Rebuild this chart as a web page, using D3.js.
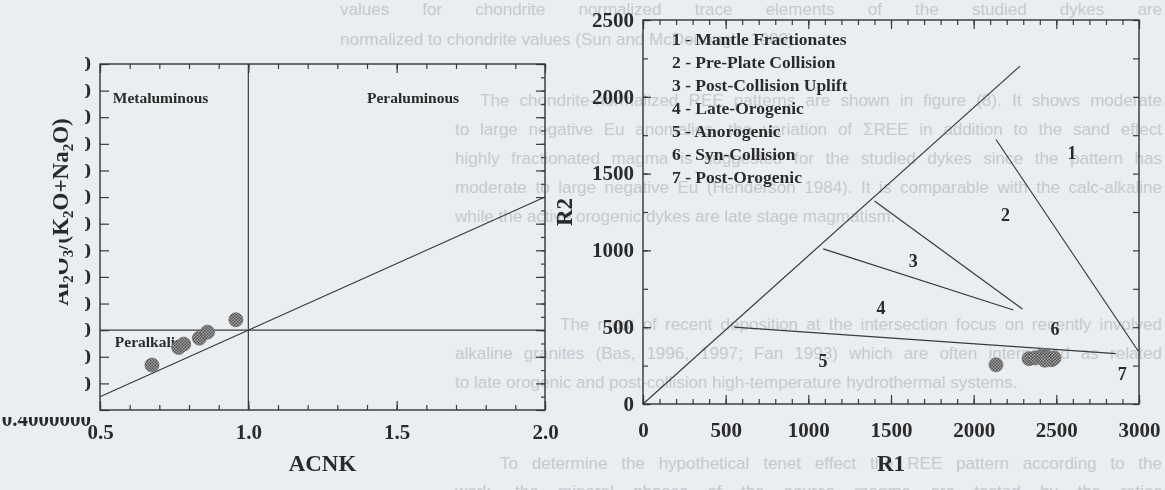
<!DOCTYPE html>
<html>
<head>
    <script src="https://cdnjs.cloudflare.com/ajax/libs/d3/7.8.5/d3.min.js"></script>
    <style>
        body, html {
            margin: 0;
            padding: 0;
            width: 100%;
            height: 100%;
            overflow: hidden;
            background: #eaeef1;
        }
        svg {
            display: block;
        }
        .doc-text {
            font-family: "Liberation Sans", Arial, sans-serif;
            font-size: 17px;
            fill: #c4cacf;
        }
        .lbl {
            font-family: "Liberation Serif", "Times New Roman", serif;
            font-weight: bold;
            fill: #2b2b2b;
        }
        .tick text {
            font-family: "Liberation Serif", "Times New Roman", serif;
            font-weight: bold;
            font-size: 21px;
            fill: #2b2b2b;
        }
        .tick line {
            stroke: #3a3a3a;
            stroke-width: 1.2px;
        }
        .frame {
            fill: none;
            stroke: #333;
            stroke-width: 1.4px;
        }
        .bound {
            stroke: #3a3a3a;
            stroke-width: 1.2px;
            fill: none;
        }
    </style>
</head>
<body>
    <svg></svg>
    <script>
        const width = 1165;
        const height = 490;

        // ---- page text behind the figures ----
        const docLines = [
            "values for chondrite normalized trace elements of the studied dykes are",
            "normalized to chondrite values (Sun and McDonough, 1989).",
            "The chondrite-normalized REE patterns are shown in figure (8). It shows moderate",
            "to large negative Eu anomalies, the variation of \u03a3REE in addition to the sand effect",
            "highly fractionated magma is suggested for the studied dykes since the pattern has",
            "moderate to large negative Eu (Henderson 1984). It is comparable with the calc-alkaline",
            "while the active orogenic dykes are late stage magmatism.",
            "The most of recent deposition at the intersection focus on recently involved",
            "alkaline granites (Bas, 1996, 1997; Fan 1993) which are often interpreted as related",
            "to late orogenic and post-collision high-temperature hydrothermal systems.",
            "To determine the hypothetical tenet effect the REE pattern according to the",
            "work, the mineral phases of the source magma are tested by the ratios"
        ];
        const docLineY = [15, 45, 106, 135, 164, 193, 222, 330, 359, 388, 469, 497];
        const docLineX = [340, 340, 480, 455, 455, 455, 455, 560, 455, 455, 500, 455];
        const docJustify = [true, false, true, true, true, true, false, true, true, false, true, true];

        // ---- Shand diagram (A/CNK vs A/NK) ----
        const acnk = [0.675, 0.765, 0.782, 0.835, 0.862, 0.958];
        const ank = [0.738, 0.870, 0.895, 0.940, 0.985, 1.078];
        const shandXTicks = [0.5, 1.0, 1.5, 2.0];
        const shandYTicks = [0.4, 0.6, 0.8, 1.0, 1.2, 1.4, 1.6, 1.8, 2.0, 2.2, 2.4, 2.6, 2.8, 3.0];
        const shandLineX = [[1, 1], [0.5, 2.0], [0.5, 2.0]];
        const shandLineY = [[0.4, 3.0], [1, 1], [0.5, 2.0]];
        const shandFields = ["Metaluminous", "Peraluminous", "Peralkaline"];
        const shandFieldX = [0.543, 1.40, 0.55];
        const shandFieldY = [2.71, 2.71, 0.875];

        // ---- R1-R2 diagram ----
        const r1 = [2135, 2335, 2372, 2418, 2446, 2472, 2486, 2430];
        const r2 = [255, 295, 300, 318, 305, 288, 300, 285];
        const r1Ticks = [0, 500, 1000, 1500, 2000, 2500, 3000];
        const r2Ticks = [0, 500, 1000, 1500, 2000, 2500];
        const boundR1 = [[0, 2280], [551, 2860], [1090, 2240], [1400, 2295], [2135, 2995]];
        const boundR2 = [[0, 2200], [500, 328], [1010, 612], [1322, 618], [1722, 345]];
        const fieldNames = ["1", "2", "3", "4", "5", "6", "7"];
        const fieldR1 = [2595, 2192, 1635, 1440, 1088, 2492, 2898];
        const fieldR2 = [1635, 1235, 930, 630, 280, 492, 195];
        const legendItems = [
            "1 - Mantle Fractionates",
            "2 - Pre-Plate Collision",
            "3 - Post-Collision Uplift",
            "4 - Late-Orogenic",
            "5 - Anorogenic",
            "6 - Syn-Collision",
            "7 - Post-Orogenic"
        ];

        const svg = d3.select("svg")
            .attr("width", width)
            .attr("height", height);

        const defs = svg.append("defs");
        const pat = defs.append("pattern")
            .attr("id", "dots")
            .attr("width", 3)
            .attr("height", 3)
            .attr("patternUnits", "userSpaceOnUse");
        pat.append("rect").attr("width", 3).attr("height", 3).attr("fill", "#a3a3a3");
        pat.append("rect").attr("width", 1.5).attr("height", 1.5).attr("fill", "#505050");
        pat.append("rect").attr("x", 1.5).attr("y", 1.5).attr("width", 1.5).attr("height", 1.5).attr("fill", "#505050");

        defs.append("filter").attr("id", "soft")
            .append("feGaussianBlur").attr("stdDeviation", 0.35);

        // clip for the cut-off y tick labels of the left figure
        const yclip = defs.append("clipPath").attr("id", "yclip");
        yclip.append("rect").attr("x", 85).attr("y", 40).attr("width", 10).attr("height", 372);
        yclip.append("rect").attr("x", 0).attr("y", 417).attr("width", 96).attr("height", 20);

        // clip for the damaged y title
        const tclip = defs.append("clipPath").attr("id", "tclip");
        tclip.append("rect").attr("x", 0).attr("y", 0).attr("width", 100).attr("height", 236);
        tclip.append("rect").attr("x", 59).attr("y", 236).attr("width", 40).attr("height", 200);

        // page text, justified by widening the word gaps
        const doc = svg.append("g")
            .selectAll("text")
            .data(docLines)
            .join("text")
            .attr("class", "doc-text")
            .attr("x", (d, i) => docLineX[i])
            .attr("y", (d, i) => docLineY[i])
            .text(d => d);
        doc.each(function(d, i) {
            if (!docJustify[i]) return;
            const gaps = d.split(" ").length - 1;
            const extra = (1162 - docLineX[i]) - this.getComputedTextLength();
            d3.select(this).attr("word-spacing", Math.max(0, extra / gaps));
        });

        // left figure sits on an opaque patch
        svg.append("rect")
            .attr("x", 0).attr("y", 56)
            .attr("width", 455).attr("height", 434)
            .attr("fill", "#eaeef1");

        // ================= left figure =================
        const sx = d3.scaleLinear().domain([0.5, 2.0]).range([100, 545]);
        const sy = d3.scaleLinear().domain([0.4, 3.0]).range([410, 64]);

        const left = svg.append("g").attr("filter", "url(#soft)");

        const xMinor = d3.range(5, 21).map(d => d / 10);
        const yMinor = d3.range(4, 31).map(d => d / 10);

        // bottom
        left.append("g").attr("transform", `translate(0,${sy(0.4)})`)
            .call(d3.axisBottom(sx).tickValues(xMinor).tickSize(-5).tickFormat(""));
        left.append("g").attr("transform", `translate(0,${sy(0.4)})`)
            .call(d3.axisBottom(sx).tickValues(shandXTicks).tickSize(-9).tickPadding(14).tickFormat(d3.format(".1f")));
        // top
        left.append("g").attr("transform", `translate(0,${sy(3.0)})`)
            .call(d3.axisTop(sx).tickValues(xMinor).tickSize(-5).tickFormat(""));
        left.append("g").attr("transform", `translate(0,${sy(3.0)})`)
            .call(d3.axisTop(sx).tickValues(shandXTicks).tickSize(-9).tickFormat(""));
        // left (ticks + clipped labels)
        left.append("g").attr("transform", `translate(${sx(0.5)},0)`)
            .call(d3.axisLeft(sy).tickValues(shandYTicks).tickSize(-9).tickFormat(""));
        const yLab = left.append("g").attr("clip-path", "url(#yclip)")
            .append("g").attr("transform", `translate(${sx(0.5)},0)`)
            .call(d3.axisLeft(sy).tickValues(shandYTicks).tickSize(0).tickPadding(9).tickFormat(d3.format(".7f")));
        yLab.selectAll(".tick text").attr("dy", d => d === 0.4 ? "0.72em" : "0.32em");
        yLab.selectAll(".tick line").remove();
        // right
        left.append("g").attr("transform", `translate(${sx(2.0)},0)`)
            .call(d3.axisRight(sy).tickValues(yMinor).tickSize(-4).tickFormat(""));
        left.append("g").attr("transform", `translate(${sx(2.0)},0)`)
            .call(d3.axisRight(sy).tickValues(shandYTicks).tickSize(-9).tickFormat(""));
        left.selectAll(".domain").remove();

        left.append("rect").attr("class", "frame")
            .attr("x", sx(0.5)).attr("y", sy(3.0))
            .attr("width", sx(2.0) - sx(0.5)).attr("height", sy(0.4) - sy(3.0));

        left.append("g")
            .selectAll("line")
            .data(shandLineX)
            .join("line")
            .attr("class", "bound")
            .attr("x1", d => sx(d[0]))
            .attr("x2", d => sx(d[1]))
            .attr("y1", (d, i) => sy(shandLineY[i][0]))
            .attr("y2", (d, i) => sy(shandLineY[i][1]));

        left.append("g")
            .selectAll("text")
            .data(shandFields)
            .join("text")
            .attr("class", "lbl")
            .attr("font-size", 15.5)
            .attr("x", (d, i) => sx(shandFieldX[i]))
            .attr("y", (d, i) => sy(shandFieldY[i]))
            .text(d => d);

        left.append("g")
            .selectAll("circle")
            .data(acnk)
            .join("circle")
            .attr("cx", d => sx(d))
            .attr("cy", (d, i) => sy(ank[i]))
            .attr("r", 7)
            .attr("fill", "url(#dots)")
            .attr("stroke", "#6a6a6a")
            .attr("stroke-width", 0.8);

        left.append("text")
            .attr("class", "lbl")
            .attr("font-size", 23)
            .attr("text-anchor", "middle")
            .attr("x", (sx(0.5) + sx(2.0)) / 2)
            .attr("y", 471)
            .text("ACNK");

        const ytitle = left.append("g").attr("clip-path", "url(#tclip)")
            .append("text")
            .attr("class", "lbl")
            .attr("font-size", 23)
            .attr("text-anchor", "middle")
            .attr("transform", "translate(68,212) rotate(-90)");
        ytitle.append("tspan").text("Al");
        ytitle.append("tspan").attr("font-size", 15).attr("dy", 5).text("2");
        ytitle.append("tspan").attr("dy", -5).text("O");
        ytitle.append("tspan").attr("font-size", 15).attr("dy", 5).text("3");
        ytitle.append("tspan").attr("dy", -5).text("/(K");
        ytitle.append("tspan").attr("font-size", 15).attr("dy", 5).text("2");
        ytitle.append("tspan").attr("dy", -5).text("O+Na");
        ytitle.append("tspan").attr("font-size", 15).attr("dy", 5).text("2");
        ytitle.append("tspan").attr("dy", -5).text("O)");

        // ================= right figure =================
        const rx = d3.scaleLinear().domain([0, 3000]).range([643, 1139]);
        const ry = d3.scaleLinear().domain([0, 2500]).range([404, 20]);

        const right = svg.append("g").attr("filter", "url(#soft)");

        const r1Minor = d3.range(0, 3001, 100);
        const r2Minor = d3.range(0, 2501, 250);

        right.append("g").attr("transform", `translate(0,${ry(0)})`)
            .call(d3.axisBottom(rx).tickValues(r1Minor).tickSize(-5).tickFormat(""));
        right.append("g").attr("transform", `translate(0,${ry(0)})`)
            .call(d3.axisBottom(rx).tickValues(r1Ticks).tickSize(-9).tickPadding(18).tickFormat(d3.format("d")));
        right.append("g").attr("transform", `translate(0,${ry(2500)})`)
            .call(d3.axisTop(rx).tickValues(r1Minor).tickSize(-5).tickFormat(""));
        right.append("g").attr("transform", `translate(0,${ry(2500)})`)
            .call(d3.axisTop(rx).tickValues(r1Ticks).tickSize(-9).tickFormat(""));
        right.append("g").attr("transform", `translate(${rx(0)},0)`)
            .call(d3.axisLeft(ry).tickValues(r2Minor).tickSize(-5).tickFormat(""));
        const r2Axis = right.append("g").attr("transform", `translate(${rx(0)},0)`)
            .call(d3.axisLeft(ry).tickValues(r2Ticks).tickSize(-8).tickPadding(9).tickFormat(d3.format("d")));
        r2Axis.selectAll(".tick text").attr("dy", "0.3em");
        right.append("g").attr("transform", `translate(${rx(3000)},0)`)
            .call(d3.axisRight(ry).tickValues(r2Minor).tickSize(-6).tickFormat(""));
        right.selectAll(".domain").remove();

        right.append("rect").attr("class", "frame")
            .attr("x", rx(0)).attr("y", ry(2500))
            .attr("width", rx(3000) - rx(0)).attr("height", ry(0) - ry(2500));

        right.append("g")
            .selectAll("line")
            .data(boundR1)
            .join("line")
            .attr("class", "bound")
            .attr("x1", d => rx(d[0]))
            .attr("x2", d => rx(d[1]))
            .attr("y1", (d, i) => ry(boundR2[i][0]))
            .attr("y2", (d, i) => ry(boundR2[i][1]));

        right.append("g")
            .selectAll("text")
            .data(fieldNames)
            .join("text")
            .attr("class", "lbl")
            .attr("font-size", 18)
            .attr("text-anchor", "middle")
            .attr("dy", "0.35em")
            .attr("x", (d, i) => rx(fieldR1[i]))
            .attr("y", (d, i) => ry(fieldR2[i]))
            .text(d => d);

        right.append("g")
            .selectAll("text")
            .data(legendItems)
            .join("text")
            .attr("class", "lbl")
            .attr("font-size", 17.5)
            .attr("x", 672)
            .attr("y", (d, i) => 45 + i * 23)
            .text(d => d);

        right.append("g")
            .selectAll("circle")
            .data(r1)
            .join("circle")
            .attr("cx", d => rx(d))
            .attr("cy", (d, i) => ry(r2[i]))
            .attr("r", 7)
            .attr("fill", "url(#dots)")
            .attr("stroke", "#6a6a6a")
            .attr("stroke-width", 0.8);

        right.append("text")
            .attr("class", "lbl")
            .attr("font-size", 23)
            .attr("text-anchor", "middle")
            .attr("x", (rx(0) + rx(3000)) / 2)
            .attr("y", 471)
            .text("R1");

        right.append("text")
            .attr("class", "lbl")
            .attr("font-size", 23)
            .attr("text-anchor", "middle")
            .attr("transform", `translate(572,${(ry(0) + ry(2500)) / 2}) rotate(-90)`)
            .text("R2");
    </script>
</body>
</html>
